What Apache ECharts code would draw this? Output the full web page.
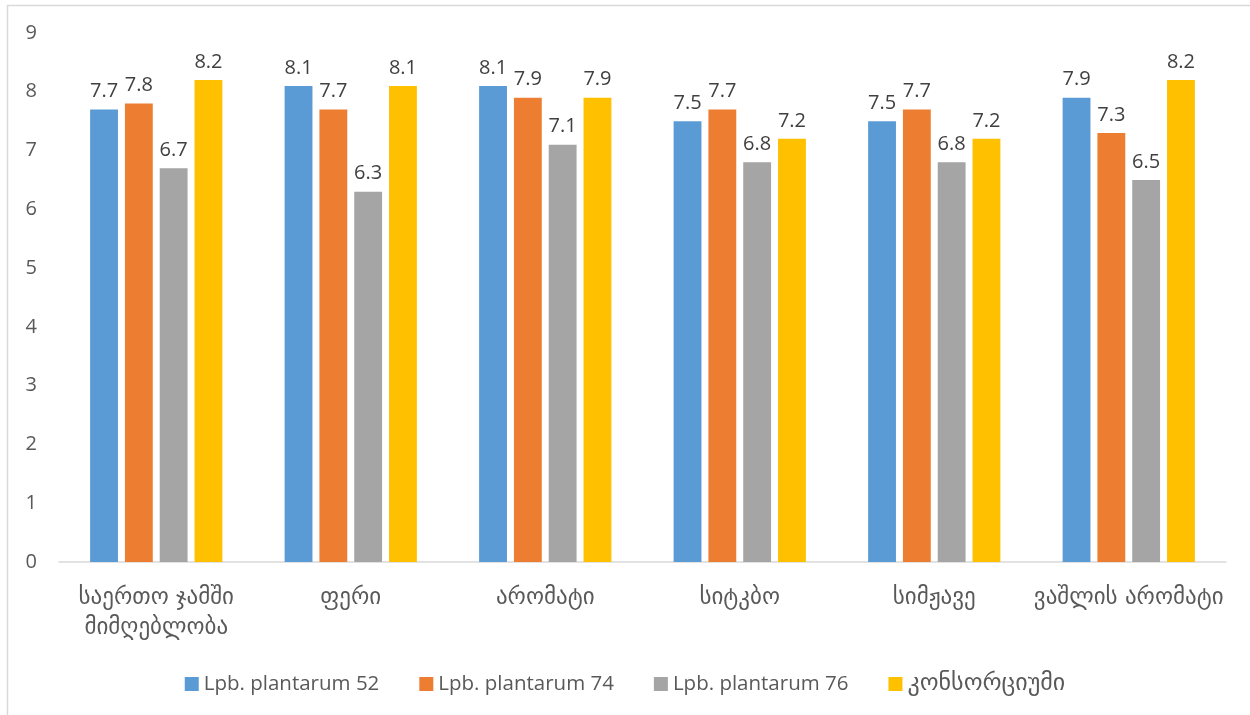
<!DOCTYPE html>
<html>
<head>
<meta charset="utf-8">
<script src="https://cdn.jsdelivr.net/npm/echarts@6/dist/echarts.min.js"></script>
<style>
  html, body { margin: 0; padding: 0; background: #fff; }
  #chart { width: 1250px; height: 715px; }
</style>
</head>
<body>
<div id="chart"></div>
<script>
// Sensory scores by attribute for each culture
const categories = ['საერთო ჯამში\nმიმღებლობა', 'ფერი', 'არომატი', 'სიტკბო', 'სიმჟავე', 'ვაშლის არომატი'];
const seriesNames = ['Lpb. plantarum 52', 'Lpb. plantarum 74', 'Lpb. plantarum 76', 'კონსორციუმი'];
const plantarum52 = [7.7, 8.1, 8.1, 7.5, 7.5, 7.9];
const plantarum74 = [7.8, 7.7, 7.9, 7.7, 7.7, 7.3];
const plantarum76 = [6.7, 6.3, 7.1, 6.8, 6.8, 6.5];
const consortium = [8.2, 8.1, 7.9, 7.2, 7.2, 8.2];
const yTicks = [0, 1, 2, 3, 4, 5, 6, 7, 8, 9];

const colors = ['#5B9BD5', '#ED7D31', '#A5A5A5', '#FFC000'];
const values = [plantarum52, plantarum74, plantarum76, consortium];
const LATIN = '"Open Sans", sans-serif';
const GEORGIAN = '"DejaVu Sans", sans-serif';
const isGeorgian = s => /[\u10A0-\u10FF]/.test(s);

const chart = echarts.init(document.getElementById('chart'), null, { renderer: 'canvas' });

chart.setOption({
  backgroundColor: '#ffffff',
  animation: false,
  color: colors,
  textStyle: { fontFamily: LATIN },
  grid: { left: 59, right: 24, top: 33, bottom: 153 },
  legend: {
    data: seriesNames,
    top: 667,
    left: 'center',
    itemWidth: 14,
    itemHeight: 14,
    itemGap: 40,
    icon: 'rect',
    formatter: name => isGeorgian(name) ? '{g|' + name + '}' : '{l|' + name + '}',
    textStyle: {
      color: '#595959',
      rich: {
        l: { fontFamily: LATIN, fontSize: 20.5, color: '#595959' },
        g: { fontFamily: GEORGIAN, fontSize: 24, color: '#595959' }
      }
    }
  },
  xAxis: {
    type: 'category',
    data: categories,
    axisLine: { lineStyle: { color: '#d9d9d9', width: 1.5 } },
    axisTick: { show: false },
    axisLabel: { color: '#595959', fontSize: 23, fontFamily: GEORGIAN, margin: 21, lineHeight: 30, interval: 0 }
  },
  yAxis: {
    type: 'value',
    min: yTicks[0],
    max: yTicks[yTicks.length - 1],
    interval: 1,
    splitLine: { show: false },
    axisLine: { show: false },
    axisTick: { show: false },
    axisLabel: { color: '#595959', fontSize: 20, fontFamily: LATIN, margin: 22 }
  },
  graphic: [{
    type: 'rect',
    silent: true,
    shape: { x: 7.5, y: 5.5, width: 1400, height: 900 },
    style: { fill: 'none', stroke: '#d9d9d9', lineWidth: 1.5 }
  }],
  series: seriesNames.map((name, i) => ({
    name: name,
    type: 'bar',
    data: values[i],
    barGap: '25%',
    barCategoryGap: '32%',
    itemStyle: { color: colors[i] },
    label: {
      show: true,
      position: 'top',
      distance: 8,
      color: '#404040',
      fontSize: 20,
      fontFamily: LATIN,
      formatter: p => p.value.toFixed(1)
    }
  }))
});
</script>
</body>
</html>
